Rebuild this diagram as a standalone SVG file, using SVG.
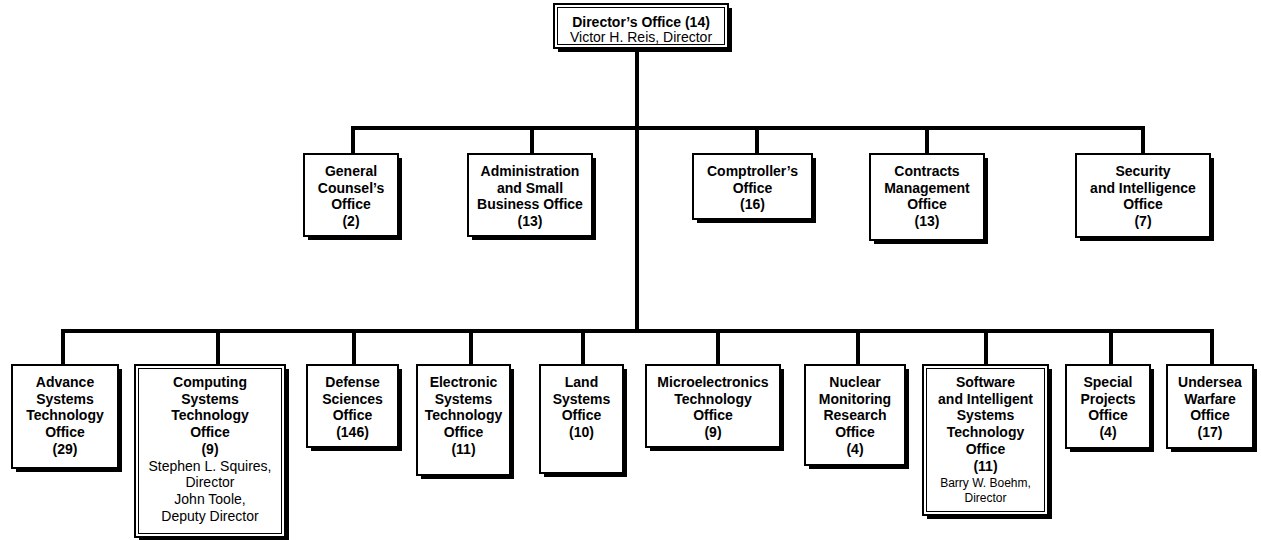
<svg xmlns="http://www.w3.org/2000/svg" width="1261" height="540" viewBox="0 0 1261 540">
  <style>
    .bg { fill: #ffffff; }
    .shadow { fill: #000000; }
    .box { fill: #ffffff; stroke: #000000; stroke-width: 2; }
    .inner { fill: none; stroke: #000000; stroke-width: 1; }
    .link { fill: none; stroke: #000000; stroke-width: 4; stroke-linecap: square; stroke-linejoin: miter; }
    text { font-family: "Liberation Sans", Arial, Helvetica, sans-serif; font-size: 14px; fill: #000000; text-anchor: middle; }
    .b { font-weight: bold; }
    .sm { font-size: 12px; }
  </style>

  <rect class="bg" x="0" y="0" width="1261" height="540"/>

  <!-- Connectors -->
  <g id="connectors">
    <!-- trunk from the Director's Office -->
    <path class="link" d="M637 49 V331"/>
    <!-- staff offices bus -->
    <path class="link" d="M353 128 H1143"/>
    <path class="link" d="M353 128 V154 M532 128 V154 M757 128 V154 M927 128 V154 M1143 128 V154"/>
    <!-- technical offices bus -->
    <path class="link" d="M63 331 H1212"/>
    <path class="link" d="M63 331 V365 M218 331 V365 M354 331 V365 M471 331 V365 M583 331 V365 M718 331 V365 M858 331 V365 M986 331 V365 M1111 331 V365 M1212 331 V365"/>
  </g>

  <!-- Director's Office -->
  <g id="directors-office">
    <rect class="shadow" x="558" y="8" width="174" height="44"/>
    <rect class="box" x="554" y="4" width="174" height="44"/>
    <rect class="inner" x="557.5" y="7.5" width="167" height="37"/>
    <text class="b" x="641" y="27">Director’s Office (14)</text>
    <text x="641" y="42">Victor H. Reis, Director</text>
  </g>

  <!-- Staff offices -->
  <g id="general-counsel">
    <rect class="shadow" x="308" y="158" width="94" height="82"/>
    <rect class="box" x="304" y="154" width="94" height="82"/>
    <text class="b" x="351" y="176">General</text>
    <text class="b" x="351" y="192.7">Counsel’s</text>
    <text class="b" x="351" y="209.4">Office</text>
    <text class="b" x="351" y="226">(2)</text>
  </g>

  <g id="administration">
    <rect class="shadow" x="472" y="158" width="124" height="82"/>
    <rect class="box" x="468" y="154" width="124" height="82"/>
    <text class="b" x="530" y="176">Administration</text>
    <text class="b" x="530" y="192.7">and Small</text>
    <text class="b" x="530" y="209.4">Business Office</text>
    <text class="b" x="530" y="226">(13)</text>
  </g>

  <g id="comptroller">
    <rect class="shadow" x="697" y="158" width="119" height="65"/>
    <rect class="box" x="693" y="154" width="119" height="65"/>
    <text class="b" x="752.5" y="176">Comptroller’s</text>
    <text class="b" x="752.5" y="192.7">Office</text>
    <text class="b" x="752.5" y="209.4">(16)</text>
  </g>

  <g id="contracts-management">
    <rect class="shadow" x="874" y="158" width="114" height="86"/>
    <rect class="box" x="870" y="154" width="114" height="86"/>
    <text class="b" x="927" y="176">Contracts</text>
    <text class="b" x="927" y="192.7">Management</text>
    <text class="b" x="927" y="209.4">Office</text>
    <text class="b" x="927" y="226">(13)</text>
  </g>

  <g id="security-intelligence">
    <rect class="shadow" x="1080" y="158" width="134" height="83"/>
    <rect class="box" x="1076" y="154" width="134" height="83"/>
    <text class="b" x="1143" y="176">Security</text>
    <text class="b" x="1143" y="192.7">and Intelligence</text>
    <text class="b" x="1143" y="209.4">Office</text>
    <text class="b" x="1143" y="226">(7)</text>
  </g>

  <!-- Technical offices -->
  <g id="advance-systems">
    <rect class="shadow" x="16" y="369" width="106" height="103"/>
    <rect class="box" x="12" y="365" width="106" height="103"/>
    <text class="b" x="65" y="387">Advance</text>
    <text class="b" x="65" y="403.7">Systems</text>
    <text class="b" x="65" y="420.4">Technology</text>
    <text class="b" x="65" y="437.1">Office</text>
    <text class="b" x="65" y="453.8">(29)</text>
  </g>

  <g id="computing-systems">
    <rect class="shadow" x="139" y="369" width="150" height="172"/>
    <rect class="box" x="135" y="365" width="150" height="172"/>
    <rect class="inner" x="138.5" y="368.5" width="143" height="165"/>
    <text class="b" x="210" y="387">Computing</text>
    <text class="b" x="210" y="403.7">Systems</text>
    <text class="b" x="210" y="420.4">Technology</text>
    <text class="b" x="210" y="437.1">Office</text>
    <text class="b" x="210" y="453.8">(9)</text>
    <text x="210" y="470.5">Stephen L. Squires,</text>
    <text x="210" y="487.2">Director</text>
    <text x="210" y="503.9">John Toole,</text>
    <text x="210" y="520.6">Deputy Director</text>
  </g>

  <g id="defense-sciences">
    <rect class="shadow" x="311" y="369" width="91" height="82"/>
    <rect class="box" x="307" y="365" width="91" height="82"/>
    <text class="b" x="352.5" y="387">Defense</text>
    <text class="b" x="352.5" y="403.7">Sciences</text>
    <text class="b" x="352.5" y="420.4">Office</text>
    <text class="b" x="352.5" y="437.1">(146)</text>
  </g>

  <g id="electronic-systems">
    <rect class="shadow" x="421" y="369" width="93" height="110"/>
    <rect class="box" x="417" y="365" width="93" height="110"/>
    <text class="b" x="463.5" y="387">Electronic</text>
    <text class="b" x="463.5" y="403.7">Systems</text>
    <text class="b" x="463.5" y="420.4">Technology</text>
    <text class="b" x="463.5" y="437.1">Office</text>
    <text class="b" x="463.5" y="453.8">(11)</text>
  </g>

  <g id="land-systems">
    <rect class="shadow" x="544" y="369" width="83" height="108"/>
    <rect class="box" x="540" y="365" width="83" height="108"/>
    <text class="b" x="581.5" y="387">Land</text>
    <text class="b" x="581.5" y="403.7">Systems</text>
    <text class="b" x="581.5" y="420.4">Office</text>
    <text class="b" x="581.5" y="437.1">(10)</text>
  </g>

  <g id="microelectronics">
    <rect class="shadow" x="650" y="369" width="134" height="82"/>
    <rect class="box" x="646" y="365" width="134" height="82"/>
    <text class="b" x="713" y="387">Microelectronics</text>
    <text class="b" x="713" y="403.7">Technology</text>
    <text class="b" x="713" y="420.4">Office</text>
    <text class="b" x="713" y="437.1">(9)</text>
  </g>

  <g id="nuclear-monitoring">
    <rect class="shadow" x="809" y="369" width="100" height="100"/>
    <rect class="box" x="805" y="365" width="100" height="100"/>
    <text class="b" x="855" y="387">Nuclear</text>
    <text class="b" x="855" y="403.7">Monitoring</text>
    <text class="b" x="855" y="420.4">Research</text>
    <text class="b" x="855" y="437.1">Office</text>
    <text class="b" x="855" y="453.8">(4)</text>
  </g>

  <g id="software-intelligent-systems">
    <rect class="shadow" x="927" y="369" width="125" height="150"/>
    <rect class="box" x="923" y="365" width="125" height="150"/>
    <rect class="inner" x="926.5" y="368.5" width="118" height="143"/>
    <text class="b" x="985.5" y="387">Software</text>
    <text class="b" x="985.5" y="403.7">and Intelligent</text>
    <text class="b" x="985.5" y="420.4">Systems</text>
    <text class="b" x="985.5" y="437.1">Technology</text>
    <text class="b" x="985.5" y="453.8">Office</text>
    <text class="b" x="985.5" y="470.5">(11)</text>
    <text class="sm" x="985.5" y="487">Barry W. Boehm,</text>
    <text class="sm" x="985.5" y="502">Director</text>
  </g>

  <g id="special-projects">
    <rect class="shadow" x="1070" y="369" width="84" height="83"/>
    <rect class="box" x="1066" y="365" width="84" height="83"/>
    <text class="b" x="1108" y="387">Special</text>
    <text class="b" x="1108" y="403.7">Projects</text>
    <text class="b" x="1108" y="420.4">Office</text>
    <text class="b" x="1108" y="437.1">(4)</text>
  </g>

  <g id="undersea-warfare">
    <rect class="shadow" x="1171" y="369" width="86" height="83"/>
    <rect class="box" x="1167" y="365" width="86" height="83"/>
    <text class="b" x="1210" y="387">Undersea</text>
    <text class="b" x="1210" y="403.7">Warfare</text>
    <text class="b" x="1210" y="420.4">Office</text>
    <text class="b" x="1210" y="437.1">(17)</text>
  </g>
</svg>
